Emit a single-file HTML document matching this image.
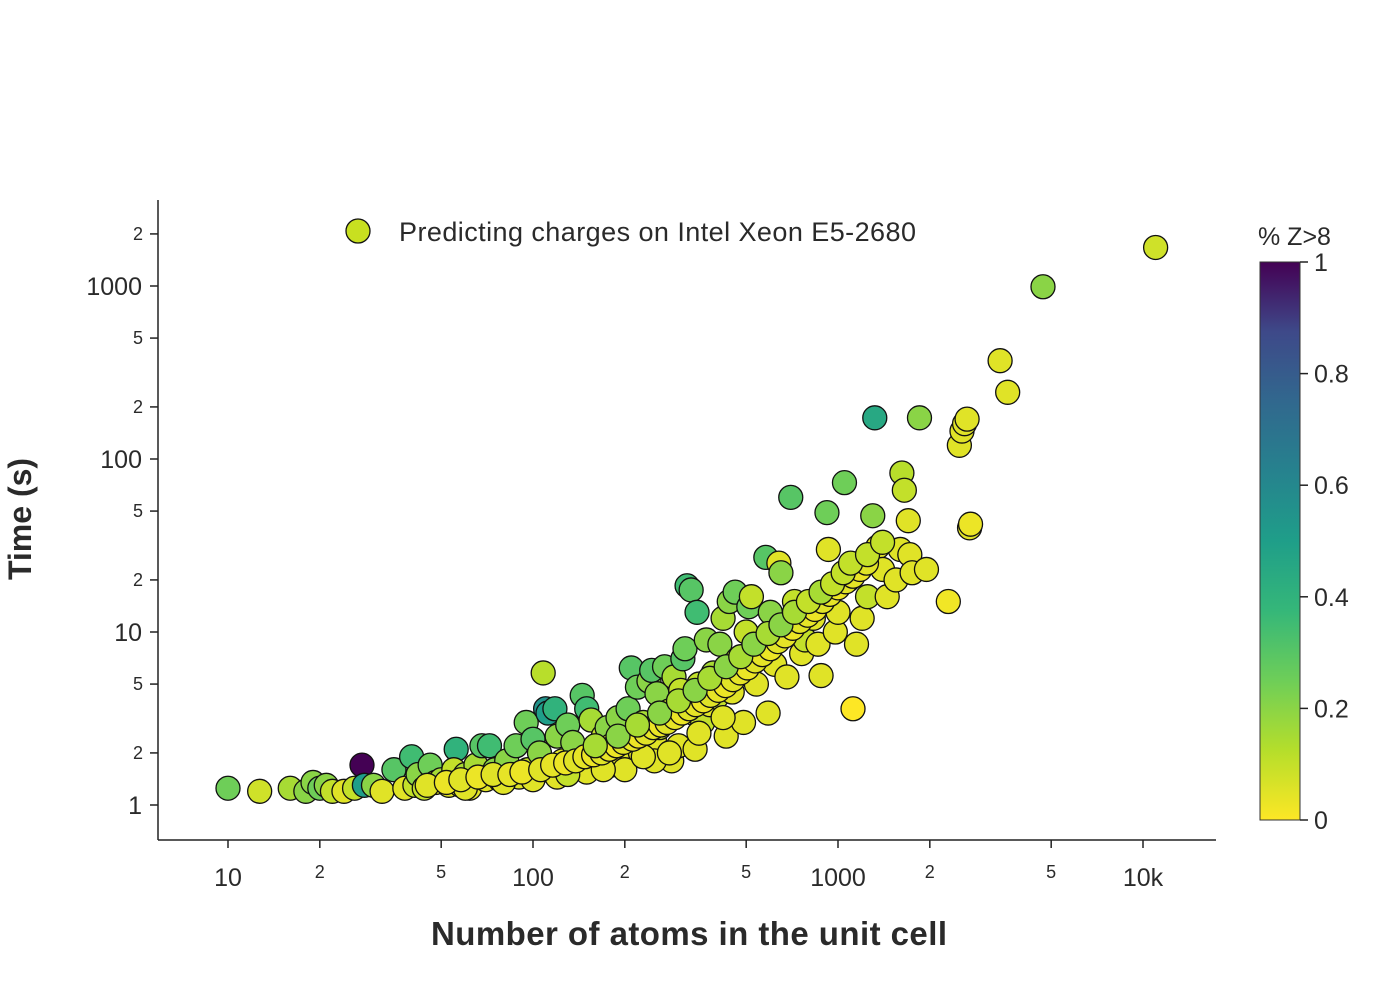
<!DOCTYPE html>
<html><head><meta charset="utf-8"><style>
body{margin:0;background:#fff;}
svg text{font-family:"Liberation Sans",sans-serif;fill:#2a2a2a;}
</style></head><body>
<svg id="chart" width="1400" height="1000" xmlns="http://www.w3.org/2000/svg">
<defs>
<linearGradient id="vir" x1="0" y1="1" x2="0" y2="0">
<stop offset="0" stop-color="#fde725"/><stop offset="0.125" stop-color="#b5de2b"/><stop offset="0.25" stop-color="#6ece58"/><stop offset="0.375" stop-color="#35b779"/><stop offset="0.5" stop-color="#1f9e89"/><stop offset="0.625" stop-color="#26828e"/><stop offset="0.75" stop-color="#31688e"/><stop offset="0.875" stop-color="#3e4989"/><stop offset="1" stop-color="#440154"/>
</linearGradient>
</defs>
<g id="axes"></g>
<g id="points"></g>
<g>
<circle cx="358" cy="231" r="12" fill="#c8e020" stroke="#111" stroke-width="1.3"/>
<text x="399" y="241" font-size="27" textLength="517">Predicting charges on Intel Xeon E5-2680</text>
</g>
<text transform="translate(31,519) rotate(-90)" text-anchor="middle" font-size="32" font-weight="bold">Time (s)</text>
<text x="689" y="945" text-anchor="middle" font-size="33" font-weight="bold" textLength="516">Number of atoms in the unit cell</text>
<g>
<rect x="1260" y="262" width="40" height="558" fill="url(#vir)" stroke="#333" stroke-width="1"/>
<text x="1258" y="245" font-size="25">% Z&gt;8</text>
</g>
<g id="cbticks"></g>
</svg>
<script>
const atoms=[10,12.7,16,18,19,20,21,22,24,26,27.5,28,30,32,35,38,40,41,42,44,46,48,50,53,56,55,58,60,62,65,68,70,72,75,78,82,85,88,90,95,96,100,102,105,108,110,112,115,118,120,125,130,135,140,145,150,155,160,165,170,175,180,190,200,205,210,215,220,225,230,240,245,250,255,260,270,280,285,290,300,305,310,315,320,330,335,340,345,350,360,370,380,390,400,410,420,430,440,450,460,470,480,490,500,510,520,540,560,580,590,600,620,640,650,660,680,700,720,740,760,780,800,830,860,880,900,920,930,950,980,1000,1050,1080,1120,1150,1180,1200,1250,1300,1320,1350,1400,1450,1550,1600,1620,1650,1700,1720,1750,1850,1950,2300,2500,2550,2600,2650,2700,2720,3400,3600,4700,11000,60,80,100,120,150,180,200,250,130,170,230,280,350,420,
45,52,58,66,74,84,92,106,116,128,138,148,158,168,178,188,198,212,222,235,248,262,275,292,308,325,342,362,382,405,428,452,478,505,535,565,600,635,670,710,750,795,840,890,940,1000,1060,1120,1180,1240,160,190,220,260,300,340,380,430,480,530,590,650,720,800,880,960,1040,1100,1250,1400];
const times=[1.25,1.2,1.25,1.2,1.35,1.25,1.3,1.2,1.2,1.25,1.7,1.3,1.3,1.2,1.6,1.25,1.9,1.3,1.5,1.25,1.7,1.35,1.4,1.3,2.1,1.6,1.3,1.5,1.25,1.7,2.2,1.4,2.2,1.6,1.4,1.8,1.5,2.2,1.45,3.0,1.6,2.4,1.5,2.0,5.8,3.6,3.4,1.6,3.6,2.5,1.8,2.9,2.3,1.7,4.3,3.6,3.1,2.0,1.7,2.5,2.8,2.2,3.2,1.7,3.6,6.2,2.5,4.8,2.0,3.0,5.2,6.0,2.4,4.4,2.8,6.3,3.5,1.8,5.5,2.2,4.6,7.0,8.0,18.5,17.5,3.4,2.1,13,5.0,3.0,9.0,3.8,5.8,4.2,8.5,12,2.5,15,4.5,17,7.0,6.3,3.0,10,14,16,5.0,8.0,27,3.4,13,6.5,25,22,10,5.5,60,15,11,7.5,9,14,12,8.5,5.6,15,49,30,18,10,13,73,20,3.6,8.5,25,12,16,47,173,31,23,16,20,30,83,66,44,28,22,173,23,15,120,145,160,170,40,42,370,243,990,1670,1.25,1.35,1.4,1.45,1.55,1.7,1.6,1.8,1.5,1.6,1.9,2.0,2.6,3.2,
1.3,1.35,1.4,1.45,1.5,1.5,1.55,1.6,1.7,1.75,1.8,1.9,1.95,2.0,2.1,2.2,2.3,2.4,2.5,2.6,2.8,2.9,3.0,3.2,3.4,3.6,3.8,4.0,4.3,4.6,4.9,5.3,5.8,6.2,6.8,7.4,8.0,8.8,9.5,10.5,11.5,12.5,13.5,15,16.5,18,19.5,21,23,25,2.2,2.5,2.9,3.4,4.0,4.6,5.4,6.3,7.2,8.5,9.8,11,13,15,17,19,22,25,28,33];
const zfrac=[0.25,0.08,0.15,0.2,0.2,0.25,0.2,0.1,0.05,0.1,1.0,0.5,0.2,0.05,0.3,0.05,0.35,0.1,0.2,0.1,0.25,0.05,0.15,0.05,0.4,0.1,0.05,0.15,0.05,0.15,0.3,0.05,0.35,0.2,0.05,0.2,0.1,0.25,0.05,0.25,0.1,0.3,0.05,0.2,0.12,0.55,0.5,0.1,0.4,0.2,0.05,0.25,0.2,0.05,0.3,0.35,0.15,0.1,0.05,0.1,0.2,0.05,0.2,0.05,0.25,0.3,0.1,0.25,0.05,0.15,0.2,0.3,0.05,0.2,0.1,0.25,0.1,0.05,0.15,0.05,0.1,0.3,0.25,0.35,0.3,0.05,0.05,0.35,0.1,0.1,0.2,0.05,0.15,0.1,0.2,0.15,0.05,0.2,0.05,0.25,0.1,0.15,0.05,0.1,0.25,0.1,0.05,0.05,0.3,0.05,0.2,0.05,0.05,0.2,0.05,0.05,0.3,0.1,0.05,0.05,0.1,0.15,0.05,0.05,0.05,0.15,0.25,0.05,0.05,0.05,0.05,0.25,0.05,0.0,0.05,0.05,0.05,0.1,0.2,0.45,0.05,0.05,0.05,0.05,0.05,0.12,0.1,0.05,0.05,0.05,0.2,0.05,0.02,0.05,0.05,0.05,0.05,0.05,0.03,0.05,0.05,0.2,0.08,0.05,0.05,0.05,0.05,0.05,0.05,0.05,0.05,0.1,0.05,0.05,0.05,0.05,0.05,
0.05,0.03,0.05,0.03,0.05,0.04,0.03,0.05,0.04,0.03,0.05,0.04,0.03,0.05,0.04,0.03,0.05,0.04,0.03,0.05,0.04,0.03,0.05,0.04,0.03,0.05,0.04,0.03,0.05,0.04,0.03,0.05,0.04,0.03,0.05,0.04,0.03,0.05,0.04,0.03,0.05,0.04,0.03,0.05,0.04,0.03,0.05,0.04,0.03,0.05,0.15,0.2,0.15,0.2,0.15,0.2,0.15,0.2,0.15,0.2,0.15,0.2,0.15,0.1,0.15,0.1,0.1,0.1,0.1,0.1];
const yMajor=[1,10,100,1000], yMajorLabels=["1","10","100","1000"];
const yMinor=[2,5,20,50,200,500,2000], yMinorLabels=["2","5","2","5","2","5","2"];
const xMajor=[10,100,1000,10000], xMajorLabels=["10","100","1000","10k"];
const xMinor=[20,50,200,500,2000,5000], xMinorLabels=["2","5","2","5","2","5"];
const cbTicks=[0,0.2,0.4,0.6,0.8,1], cbLabels=["0","0.2","0.4","0.6","0.8","1"];

const NS="http://www.w3.org/2000/svg";
function xs(v){return 228+305*(Math.log10(v)-1);}
function ys(v){return 805-173*Math.log10(v);}
function cbs(v){return 820-558*v;}
const vir=[[253,231,37],[181,222,43],[110,206,88],[53,183,121],[31,158,137],[38,130,142],[49,104,142],[62,73,137],[68,1,84]];
function color(t){t=Math.max(0,Math.min(1,t))*8;const i=Math.min(7,Math.floor(t)),f=t-i;const a=vir[i],b=vir[i+1];
return "rgb("+a.map((c,k)=>Math.round(c+(b[k]-c)*f)).join(",")+")";}
function mk(tag,attrs,parent){const e=document.createElementNS(NS,tag);for(const k in attrs)e.setAttribute(k,attrs[k]);parent.appendChild(e);return e;}
const ax=document.getElementById('axes');
let l=mk('line',{x1:158,y1:200,x2:158,y2:840,stroke:'#222','stroke-width':1.5},ax);


l=mk('line',{x1:158,y1:840,x2:1216,y2:840,stroke:'#222','stroke-width':1.5},ax);


yMajor.forEach((v,i)=>{const y=ys(v);
 const t=mk('line',{x1:150,y1:y,x2:158,y2:y,stroke:'#222','stroke-width':1.5},ax);
 
 
 const tx=mk('text',{x:142,y:y+9,'text-anchor':'end','font-size':25},ax);tx.textContent=yMajorLabels[i];
 
 });
yMinor.forEach((v,i)=>{const y=ys(v);
 const t=mk('line',{x1:150,y1:y,x2:158,y2:y,stroke:'#222','stroke-width':1.5},ax);
 
 
 const tx=mk('text',{x:143,y:y+6,'text-anchor':'end','font-size':18},ax);tx.textContent=yMinorLabels[i];
 
 });
xMajor.forEach((v,i)=>{const x=xs(v);
 const t=mk('line',{x1:x,y1:840,x2:x,y2:848,stroke:'#222','stroke-width':1.5},ax);
 
 
 const tx=mk('text',{x:x,y:886,'text-anchor':'middle','font-size':25},ax);tx.textContent=xMajorLabels[i];
 
 });
xMinor.forEach((v,i)=>{const x=xs(v);
 const t=mk('line',{x1:x,y1:840,x2:x,y2:848,stroke:'#222','stroke-width':1.5},ax);
 
 
 const tx=mk('text',{x:x,y:878,'text-anchor':'middle','font-size':18},ax);tx.textContent=xMinorLabels[i];
 
 });
const pg=document.getElementById('points');
atoms.forEach((a,i)=>{
 const c=mk('circle',{cx:xs(a),cy:ys(times[i]),r:12,fill:color(zfrac[i]),stroke:'#111','stroke-width':1.3},pg);
 
 });
const cb=document.getElementById('cbticks');
cbTicks.forEach((v,i)=>{const y=cbs(v);
 const t=mk('line',{x1:1300,y1:y,x2:1308,y2:y,stroke:'#222','stroke-width':1.5},cb);
 
 
 const tx=mk('text',{x:1314,y:y+9,'font-size':25},cb);tx.textContent=cbLabels[i];
 
 });
</script>
</body></html>
